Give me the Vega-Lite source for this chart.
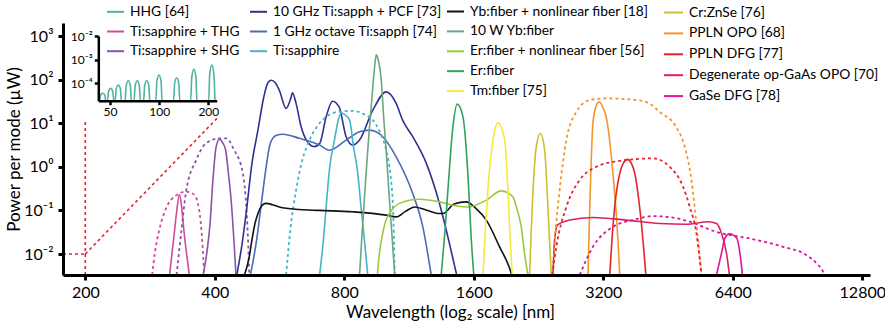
{
"$schema": "https://vega.github.io/schema/vega-lite/v6.json",
"width": 807, "height": 252,
"autosize": {"type": "none"},
"padding": {"left": 63, "top": 23, "right": 15, "bottom": 54},
"background": "white",
"config": {"font": "Lato", "view": {"stroke": null}, "axis": {"grid": false}, "legend": {"labelLimit": 400}},
"datasets": {
"spec": [
{"s":"Ti:sapphire + THG","d":"s","w":314,"p":0.0033},{"s":"Ti:sapphire + THG","d":"s","w":318,"p":0.01},{"s":"Ti:sapphire + THG","d":"s","w":322,"p":0.03},{"s":"Ti:sapphire + THG","d":"s","w":326,"p":0.09},{"s":"Ti:sapphire + THG","d":"s","w":331,"p":0.23},{"s":"Ti:sapphire + THG","d":"s","w":335,"p":0.12},{"s":"Ti:sapphire + THG","d":"s","w":339,"p":0.035},{"s":"Ti:sapphire + THG","d":"s","w":344,"p":0.01},{"s":"Ti:sapphire + THG","d":"s","w":349,"p":0.0033},
{"s":"Ti:sapphire + THG","d":"d","w":286,"p":0.0033},{"s":"Ti:sapphire + THG","d":"d","w":290,"p":0.01},{"s":"Ti:sapphire + THG","d":"d","w":297,"p":0.035},{"s":"Ti:sapphire + THG","d":"d","w":308,"p":0.11},{"s":"Ti:sapphire + THG","d":"d","w":326,"p":0.224},{"s":"Ti:sapphire + THG","d":"d","w":343,"p":0.27},{"s":"Ti:sapphire + THG","d":"d","w":358,"p":0.23},{"s":"Ti:sapphire + THG","d":"d","w":368,"p":0.1},{"s":"Ti:sapphire + THG","d":"d","w":374,"p":0.02},{"s":"Ti:sapphire + THG","d":"d","w":378,"p":0.0033},
{"s":"Ti:sapphire + SHG","d":"s","w":376,"p":0.0033},{"s":"Ti:sapphire + SHG","d":"s","w":385,"p":0.015},{"s":"Ti:sapphire + SHG","d":"s","w":390,"p":0.05},{"s":"Ti:sapphire + SHG","d":"s","w":396,"p":0.5},{"s":"Ti:sapphire + SHG","d":"s","w":403,"p":2.9},{"s":"Ti:sapphire + SHG","d":"s","w":410,"p":4.3},{"s":"Ti:sapphire + SHG","d":"s","w":417,"p":3.6},{"s":"Ti:sapphire + SHG","d":"s","w":424,"p":2.4},{"s":"Ti:sapphire + SHG","d":"s","w":431,"p":0.6},{"s":"Ti:sapphire + SHG","d":"s","w":436,"p":0.2},{"s":"Ti:sapphire + SHG","d":"s","w":444,"p":0.015},{"s":"Ti:sapphire + SHG","d":"s","w":448,"p":0.0033},
{"s":"Ti:sapphire + SHG","d":"d","w":326,"p":0.0033},{"s":"Ti:sapphire + SHG","d":"d","w":334,"p":0.03},{"s":"Ti:sapphire + SHG","d":"d","w":343,"p":0.27},{"s":"Ti:sapphire + SHG","d":"d","w":362,"p":1.42},{"s":"Ti:sapphire + SHG","d":"d","w":381,"p":3.4},{"s":"Ti:sapphire + SHG","d":"d","w":410,"p":4.5},{"s":"Ti:sapphire + SHG","d":"d","w":425,"p":4.5},{"s":"Ti:sapphire + SHG","d":"d","w":444,"p":2.4},{"s":"Ti:sapphire + SHG","d":"d","w":465,"p":0.7},{"s":"Ti:sapphire + SHG","d":"d","w":474,"p":0.1},{"s":"Ti:sapphire + SHG","d":"d","w":478,"p":0.02},{"s":"Ti:sapphire + SHG","d":"d","w":481,"p":0.0033},
{"s":"10 GHz Ti:sapph + PCF [73]","d":"s","w":450,"p":0.0033},{"s":"10 GHz Ti:sapph + PCF [73]","d":"s","w":462,"p":0.015},{"s":"10 GHz Ti:sapph + PCF [73]","d":"s","w":473,"p":0.085},{"s":"10 GHz Ti:sapph + PCF [73]","d":"s","w":488,"p":1.2},{"s":"10 GHz Ti:sapph + PCF [73]","d":"s","w":504,"p":7},{"s":"10 GHz Ti:sapph + PCF [73]","d":"s","w":520,"p":40},{"s":"10 GHz Ti:sapph + PCF [73]","d":"s","w":530,"p":80},{"s":"10 GHz Ti:sapph + PCF [73]","d":"s","w":541,"p":97},{"s":"10 GHz Ti:sapph + PCF [73]","d":"s","w":553,"p":85},{"s":"10 GHz Ti:sapph + PCF [73]","d":"s","w":565,"p":57},{"s":"10 GHz Ti:sapph + PCF [73]","d":"s","w":586,"p":21.8},{"s":"10 GHz Ti:sapph + PCF [73]","d":"s","w":602,"p":40},{"s":"10 GHz Ti:sapph + PCF [73]","d":"s","w":606,"p":50},{"s":"10 GHz Ti:sapph + PCF [73]","d":"s","w":618,"p":28.5},{"s":"10 GHz Ti:sapph + PCF [73]","d":"s","w":635,"p":8.3},{"s":"10 GHz Ti:sapph + PCF [73]","d":"s","w":653,"p":4.1},{"s":"10 GHz Ti:sapph + PCF [73]","d":"s","w":681,"p":2.9},{"s":"10 GHz Ti:sapph + PCF [73]","d":"s","w":701,"p":3.4},{"s":"10 GHz Ti:sapph + PCF [73]","d":"s","w":726,"p":14},{"s":"10 GHz Ti:sapph + PCF [73]","d":"s","w":751,"p":32},{"s":"10 GHz Ti:sapph + PCF [73]","d":"s","w":778,"p":23.7},{"s":"10 GHz Ti:sapph + PCF [73]","d":"s","w":808,"p":4.9},{"s":"10 GHz Ti:sapph + PCF [73]","d":"s","w":837,"p":3.15},{"s":"10 GHz Ti:sapph + PCF [73]","d":"s","w":868,"p":4.1},{"s":"10 GHz Ti:sapph + PCF [73]","d":"s","w":932,"p":20},{"s":"10 GHz Ti:sapph + PCF [73]","d":"s","w":1001,"p":52.5},{"s":"10 GHz Ti:sapph + PCF [73]","d":"s","w":1056,"p":28.5},{"s":"10 GHz Ti:sapph + PCF [73]","d":"s","w":1093,"p":11.8},{"s":"10 GHz Ti:sapph + PCF [73]","d":"s","w":1154,"p":4.9},{"s":"10 GHz Ti:sapph + PCF [73]","d":"s","w":1241,"p":1.2},{"s":"10 GHz Ti:sapph + PCF [73]","d":"s","w":1330,"p":0.15},{"s":"10 GHz Ti:sapph + PCF [73]","d":"s","w":1400,"p":0.02},{"s":"10 GHz Ti:sapph + PCF [73]","d":"s","w":1460,"p":0.0033},
{"s":"1 GHz octave Ti:sapph [74]","d":"s","w":484,"p":0.0033},{"s":"1 GHz octave Ti:sapph [74]","d":"s","w":500,"p":0.02},{"s":"1 GHz octave Ti:sapph [74]","d":"s","w":512,"p":0.12},{"s":"1 GHz octave Ti:sapph [74]","d":"s","w":520,"p":0.4},{"s":"1 GHz octave Ti:sapph [74]","d":"s","w":528,"p":1.2},{"s":"1 GHz octave Ti:sapph [74]","d":"s","w":538,"p":3.4},{"s":"1 GHz octave Ti:sapph [74]","d":"s","w":555,"p":5.2},{"s":"1 GHz octave Ti:sapph [74]","d":"s","w":576,"p":5.6},{"s":"1 GHz octave Ti:sapph [74]","d":"s","w":629,"p":4.5},{"s":"1 GHz octave Ti:sapph [74]","d":"s","w":701,"p":3.15},{"s":"1 GHz octave Ti:sapph [74]","d":"s","w":739,"p":2.4},{"s":"1 GHz octave Ti:sapph [74]","d":"s","w":808,"p":4.1},{"s":"1 GHz octave Ti:sapph [74]","d":"s","w":868,"p":6.35},{"s":"1 GHz octave Ti:sapph [74]","d":"s","w":916,"p":6.95},{"s":"1 GHz octave Ti:sapph [74]","d":"s","w":983,"p":4.9},{"s":"1 GHz octave Ti:sapph [74]","d":"s","w":1056,"p":1.7},{"s":"1 GHz octave Ti:sapph [74]","d":"s","w":1154,"p":0.245},{"s":"1 GHz octave Ti:sapph [74]","d":"s","w":1218,"p":0.042},{"s":"1 GHz octave Ti:sapph [74]","d":"s","w":1274,"p":0.0033},
{"s":"Ti:sapphire","d":"s","w":701,"p":0.0033},{"s":"Ti:sapphire","d":"s","w":715,"p":0.02},{"s":"Ti:sapphire","d":"s","w":726,"p":0.12},{"s":"Ti:sapphire","d":"s","w":740,"p":1},{"s":"Ti:sapphire","d":"s","w":759,"p":4.1},{"s":"Ti:sapphire","d":"s","w":775,"p":12},{"s":"Ti:sapphire","d":"s","w":787,"p":17.3},{"s":"Ti:sapphire","d":"s","w":800,"p":16},{"s":"Ti:sapphire","d":"s","w":823,"p":11.8},{"s":"Ti:sapphire","d":"s","w":840,"p":3},{"s":"Ti:sapphire","d":"s","w":860,"p":0.7},{"s":"Ti:sapphire","d":"s","w":875,"p":0.12},{"s":"Ti:sapphire","d":"s","w":891,"p":0.021},{"s":"Ti:sapphire","d":"s","w":907,"p":0.0033},
{"s":"Ti:sapphire","d":"d","w":586,"p":0.0033},{"s":"Ti:sapphire","d":"d","w":600,"p":0.04},{"s":"Ti:sapphire","d":"d","w":618,"p":0.29},{"s":"Ti:sapphire","d":"d","w":640,"p":1.5},{"s":"Ti:sapphire","d":"d","w":664,"p":4.1},{"s":"Ti:sapphire","d":"d","w":695,"p":9},{"s":"Ti:sapphire","d":"d","w":726,"p":14},{"s":"Ti:sapphire","d":"d","w":780,"p":18.5},{"s":"Ti:sapphire","d":"d","w":837,"p":19.2},{"s":"Ti:sapphire","d":"d","w":890,"p":16},{"s":"Ti:sapphire","d":"d","w":932,"p":11.8},{"s":"Ti:sapphire","d":"d","w":970,"p":6},{"s":"Ti:sapphire","d":"d","w":1001,"p":2.4},{"s":"Ti:sapphire","d":"d","w":1025,"p":0.6},{"s":"Ti:sapphire","d":"d","w":1038,"p":0.12},{"s":"Ti:sapphire","d":"d","w":1044,"p":0.02},{"s":"Ti:sapphire","d":"d","w":1048,"p":0.0033},
{"s":"Yb:fiber + nonlinear fiber [18]","d":"s","w":469,"p":0.0033},{"s":"Yb:fiber + nonlinear fiber [18]","d":"s","w":481,"p":0.0086},{"s":"Yb:fiber + nonlinear fiber [18]","d":"s","w":488,"p":0.021},{"s":"Yb:fiber + nonlinear fiber [18]","d":"s","w":496,"p":0.05},{"s":"Yb:fiber + nonlinear fiber [18]","d":"s","w":504,"p":0.085},{"s":"Yb:fiber + nonlinear fiber [18]","d":"s","w":515,"p":0.13},{"s":"Yb:fiber + nonlinear fiber [18]","d":"s","w":526,"p":0.145},{"s":"Yb:fiber + nonlinear fiber [18]","d":"s","w":545,"p":0.135},{"s":"Yb:fiber + nonlinear fiber [18]","d":"s","w":565,"p":0.12},{"s":"Yb:fiber + nonlinear fiber [18]","d":"s","w":629,"p":0.105},{"s":"Yb:fiber + nonlinear fiber [18]","d":"s","w":700,"p":0.1},{"s":"Yb:fiber + nonlinear fiber [18]","d":"s","w":837,"p":0.093},{"s":"Yb:fiber + nonlinear fiber [18]","d":"s","w":1001,"p":0.078},{"s":"Yb:fiber + nonlinear fiber [18]","d":"s","w":1056,"p":0.071},{"s":"Yb:fiber + nonlinear fiber [18]","d":"s","w":1110,"p":0.095},{"s":"Yb:fiber + nonlinear fiber [18]","d":"s","w":1165,"p":0.12},{"s":"Yb:fiber + nonlinear fiber [18]","d":"s","w":1230,"p":0.105},{"s":"Yb:fiber + nonlinear fiber [18]","d":"s","w":1332,"p":0.085},{"s":"Yb:fiber + nonlinear fiber [18]","d":"s","w":1356,"p":0.085},{"s":"Yb:fiber + nonlinear fiber [18]","d":"s","w":1440,"p":0.14},{"s":"Yb:fiber + nonlinear fiber [18]","d":"s","w":1537,"p":0.157},{"s":"Yb:fiber + nonlinear fiber [18]","d":"s","w":1620,"p":0.11},{"s":"Yb:fiber + nonlinear fiber [18]","d":"s","w":1711,"p":0.06},{"s":"Yb:fiber + nonlinear fiber [18]","d":"s","w":1837,"p":0.0146},{"s":"Yb:fiber + nonlinear fiber [18]","d":"s","w":1938,"p":0.0047},{"s":"Yb:fiber + nonlinear fiber [18]","d":"s","w":1960,"p":0.0033},
{"s":"10 W Yb:fiber","d":"s","w":868,"p":0.0033},{"s":"10 W Yb:fiber","d":"s","w":880,"p":0.03},{"s":"10 W Yb:fiber","d":"s","w":899,"p":0.7},{"s":"10 W Yb:fiber","d":"s","w":912,"p":5},{"s":"10 W Yb:fiber","d":"s","w":924,"p":23.7},{"s":"10 W Yb:fiber","d":"s","w":941,"p":196},{"s":"10 W Yb:fiber","d":"s","w":949,"p":370},{"s":"10 W Yb:fiber","d":"s","w":958,"p":300},{"s":"10 W Yb:fiber","d":"s","w":975,"p":97},{"s":"10 W Yb:fiber","d":"s","w":990,"p":10},{"s":"10 W Yb:fiber","d":"s","w":1001,"p":2.4},{"s":"10 W Yb:fiber","d":"s","w":1015,"p":0.3},{"s":"10 W Yb:fiber","d":"s","w":1028,"p":0.05},{"s":"10 W Yb:fiber","d":"s","w":1048,"p":0.0033},
{"s":"Er:fiber + nonlinear fiber [56]","d":"s","w":955,"p":0.0033},{"s":"Er:fiber + nonlinear fiber [56]","d":"s","w":965,"p":0.01},{"s":"Er:fiber + nonlinear fiber [56]","d":"s","w":983,"p":0.03},{"s":"Er:fiber + nonlinear fiber [56]","d":"s","w":1000,"p":0.06},{"s":"Er:fiber + nonlinear fiber [56]","d":"s","w":1019,"p":0.085},{"s":"Er:fiber + nonlinear fiber [56]","d":"s","w":1075,"p":0.145},{"s":"Er:fiber + nonlinear fiber [56]","d":"s","w":1197,"p":0.18},{"s":"Er:fiber + nonlinear fiber [56]","d":"s","w":1332,"p":0.157},{"s":"Er:fiber + nonlinear fiber [56]","d":"s","w":1440,"p":0.13},{"s":"Er:fiber + nonlinear fiber [56]","d":"s","w":1564,"p":0.12},{"s":"Er:fiber + nonlinear fiber [56]","d":"s","w":1640,"p":0.14},{"s":"Er:fiber + nonlinear fiber [56]","d":"s","w":1711,"p":0.172},{"s":"Er:fiber + nonlinear fiber [56]","d":"s","w":1854,"p":0.28},{"s":"Er:fiber + nonlinear fiber [56]","d":"s","w":1972,"p":0.205},{"s":"Er:fiber + nonlinear fiber [56]","d":"s","w":2020,"p":0.1},{"s":"Er:fiber + nonlinear fiber [56]","d":"s","w":2063,"p":0.042},{"s":"Er:fiber + nonlinear fiber [56]","d":"s","w":2100,"p":0.01},{"s":"Er:fiber + nonlinear fiber [56]","d":"s","w":2138,"p":0.0033},
{"s":"Er:fiber","d":"s","w":1344,"p":0.0033},{"s":"Er:fiber","d":"s","w":1370,"p":0.03},{"s":"Er:fiber","d":"s","w":1393,"p":0.29},{"s":"Er:fiber","d":"s","w":1431,"p":8.3},{"s":"Er:fiber","d":"s","w":1464,"p":27.4},{"s":"Er:fiber","d":"s","w":1510,"p":14},{"s":"Er:fiber","d":"s","w":1550,"p":0.7},{"s":"Er:fiber","d":"s","w":1579,"p":0.021},{"s":"Er:fiber","d":"s","w":1600,"p":0.0033},
{"s":"Tm:fiber [75]","d":"s","w":1681,"p":0.0033},{"s":"Tm:fiber [75]","d":"s","w":1700,"p":0.03},{"s":"Tm:fiber [75]","d":"s","w":1725,"p":0.29},{"s":"Tm:fiber [75]","d":"s","w":1773,"p":4.1},{"s":"Tm:fiber [75]","d":"s","w":1821,"p":10.2},{"s":"Tm:fiber [75]","d":"s","w":1888,"p":4.1},{"s":"Tm:fiber [75]","d":"s","w":1921,"p":0.29},{"s":"Tm:fiber [75]","d":"s","w":1945,"p":0.02},{"s":"Tm:fiber [75]","d":"s","w":1966,"p":0.0033},
{"s":"Cr:ZnSe [76]","d":"s","w":2157,"p":0.0033},{"s":"Cr:ZnSe [76]","d":"s","w":2175,"p":0.03},{"s":"Cr:ZnSe [76]","d":"s","w":2197,"p":0.29},{"s":"Cr:ZnSe [76]","d":"s","w":2236,"p":2.9},{"s":"Cr:ZnSe [76]","d":"s","w":2285,"p":5.8},{"s":"Cr:ZnSe [76]","d":"s","w":2338,"p":2.4},{"s":"Cr:ZnSe [76]","d":"s","w":2379,"p":0.12},{"s":"Cr:ZnSe [76]","d":"s","w":2400,"p":0.02},{"s":"Cr:ZnSe [76]","d":"s","w":2423,"p":0.0033},
{"s":"PPLN OPO [68]","d":"s","w":2949,"p":0.0033},{"s":"PPLN OPO [68]","d":"s","w":2965,"p":0.03},{"s":"PPLN OPO [68]","d":"s","w":2985,"p":0.29},{"s":"PPLN OPO [68]","d":"s","w":3027,"p":9.9},{"s":"PPLN OPO [68]","d":"s","w":3080,"p":25},{"s":"PPLN OPO [68]","d":"s","w":3131,"p":31},{"s":"PPLN OPO [68]","d":"s","w":3200,"p":22},{"s":"PPLN OPO [68]","d":"s","w":3250,"p":14},{"s":"PPLN OPO [68]","d":"s","w":3370,"p":0.7},{"s":"PPLN OPO [68]","d":"s","w":3461,"p":0.021},{"s":"PPLN OPO [68]","d":"s","w":3494,"p":0.0033},
{"s":"PPLN OPO [68]","d":"d","w":2444,"p":0.0033},{"s":"PPLN OPO [68]","d":"d","w":2470,"p":0.02},{"s":"PPLN OPO [68]","d":"d","w":2533,"p":0.29},{"s":"PPLN OPO [68]","d":"d","w":2626,"p":4.1},{"s":"PPLN OPO [68]","d":"d","w":2770,"p":18.2},{"s":"PPLN OPO [68]","d":"d","w":2975,"p":34},{"s":"PPLN OPO [68]","d":"d","w":3250,"p":37},{"s":"PPLN OPO [68]","d":"d","w":3822,"p":34},{"s":"PPLN OPO [68]","d":"d","w":4103,"p":28},{"s":"PPLN OPO [68]","d":"d","w":4329,"p":18.2},{"s":"PPLN OPO [68]","d":"d","w":4734,"p":8},{"s":"PPLN OPO [68]","d":"d","w":4948,"p":2.9},{"s":"PPLN OPO [68]","d":"d","w":5129,"p":0.5},{"s":"PPLN OPO [68]","d":"d","w":5268,"p":0.05},{"s":"PPLN OPO [68]","d":"d","w":5412,"p":0.0033},
{"s":"PPLN DFG [77]","d":"s","w":3312,"p":0.0033},{"s":"PPLN DFG [77]","d":"s","w":3360,"p":0.03},{"s":"PPLN DFG [77]","d":"s","w":3401,"p":0.12},{"s":"PPLN DFG [77]","d":"s","w":3494,"p":0.7},{"s":"PPLN DFG [77]","d":"s","w":3560,"p":1.2},{"s":"PPLN DFG [77]","d":"s","w":3640,"p":1.48},{"s":"PPLN DFG [77]","d":"s","w":3720,"p":1.2},{"s":"PPLN DFG [77]","d":"s","w":3788,"p":0.7},{"s":"PPLN DFG [77]","d":"s","w":3924,"p":0.05},{"s":"PPLN DFG [77]","d":"s","w":4020,"p":0.0033},
{"s":"PPLN DFG [77]","d":"d","w":2435,"p":0.0033},{"s":"PPLN DFG [77]","d":"d","w":2488,"p":0.0146},{"s":"PPLN DFG [77]","d":"d","w":2626,"p":0.12},{"s":"PPLN DFG [77]","d":"d","w":2820,"p":0.5},{"s":"PPLN DFG [77]","d":"d","w":3084,"p":1},{"s":"PPLN DFG [77]","d":"d","w":3494,"p":1.37},{"s":"PPLN DFG [77]","d":"d","w":4176,"p":1.56},{"s":"PPLN DFG [77]","d":"d","w":4567,"p":1},{"s":"PPLN DFG [77]","d":"d","w":4904,"p":0.35},{"s":"PPLN DFG [77]","d":"d","w":5084,"p":0.12},{"s":"PPLN DFG [77]","d":"d","w":5268,"p":0.03},{"s":"PPLN DFG [77]","d":"d","w":5412,"p":0.0033},
{"s":"Degenerate op-GaAs OPO [70]","d":"s","w":2444,"p":0.0033},{"s":"Degenerate op-GaAs OPO [70]","d":"s","w":2466,"p":0.021},{"s":"Degenerate op-GaAs OPO [70]","d":"s","w":2503,"p":0.046},{"s":"Degenerate op-GaAs OPO [70]","d":"s","w":2672,"p":0.06},{"s":"Degenerate op-GaAs OPO [70]","d":"s","w":3027,"p":0.069},{"s":"Degenerate op-GaAs OPO [70]","d":"s","w":3614,"p":0.06},{"s":"Degenerate op-GaAs OPO [70]","d":"s","w":4329,"p":0.05},{"s":"Degenerate op-GaAs OPO [70]","d":"s","w":4994,"p":0.048},{"s":"Degenerate op-GaAs OPO [70]","d":"s","w":5608,"p":0.055},{"s":"Degenerate op-GaAs OPO [70]","d":"s","w":5865,"p":0.05},{"s":"Degenerate op-GaAs OPO [70]","d":"s","w":6023,"p":0.03},{"s":"Degenerate op-GaAs OPO [70]","d":"s","w":6189,"p":0.0103},{"s":"Degenerate op-GaAs OPO [70]","d":"s","w":6286,"p":0.0033},
{"s":"GaSe DFG [78]","d":"s","w":5865,"p":0.0033},{"s":"GaSe DFG [78]","d":"s","w":6023,"p":0.0103},{"s":"GaSe DFG [78]","d":"s","w":6131,"p":0.0226},{"s":"GaSe DFG [78]","d":"s","w":6286,"p":0.029},{"s":"GaSe DFG [78]","d":"s","w":6420,"p":0.027},{"s":"GaSe DFG [78]","d":"s","w":6546,"p":0.0226},{"s":"GaSe DFG [78]","d":"s","w":6666,"p":0.0087},{"s":"GaSe DFG [78]","d":"s","w":6740,"p":0.0033},
{"s":"GaSe DFG [78]","d":"d","w":2820,"p":0.0033},{"s":"GaSe DFG [78]","d":"d","w":3027,"p":0.0146},{"s":"GaSe DFG [78]","d":"d","w":3370,"p":0.042},{"s":"GaSe DFG [78]","d":"d","w":3752,"p":0.06},{"s":"GaSe DFG [78]","d":"d","w":4176,"p":0.074},{"s":"GaSe DFG [78]","d":"d","w":4734,"p":0.066},{"s":"GaSe DFG [78]","d":"d","w":5084,"p":0.055},{"s":"GaSe DFG [78]","d":"d","w":5865,"p":0.032},{"s":"GaSe DFG [78]","d":"d","w":7010,"p":0.0226},{"s":"GaSe DFG [78]","d":"d","w":8380,"p":0.0146},{"s":"GaSe DFG [78]","d":"d","w":9500,"p":0.0094},{"s":"GaSe DFG [78]","d":"d","w":10020,"p":0.0061},{"s":"GaSe DFG [78]","d":"d","w":10380,"p":0.0039},{"s":"GaSe DFG [78]","d":"d","w":10450,"p":0.0033}
],
"conn": [
{"seg":"a","i":1,"w":177.5,"p":0.0033},{"seg":"a","i":2,"w":177.5,"p":0.01},
{"seg":"b","i":1,"w":177.5,"p":0.01},{"seg":"b","i":2,"w":200,"p":0.01},
{"seg":"c","i":1,"w":200,"p":0.0033},{"seg":"c","i":2,"w":200,"p":12.4},
{"seg":"d","i":1,"w":200,"p":0.01},{"seg":"d","i":2,"w":405,"p":13},
{"seg":"e","i":1,"w":177.5,"p":0.0033},{"seg":"e","i":2,"w":200,"p":0.0033}
],
"hhg": [
{"w":43.2,"p":1.84e-5},{"w":43.8,"p":3.17e-5},{"w":45.1,"p":3.8e-5},{"w":46.5,"p":3.17e-5},{"w":47.1,"p":1.84e-5},
{"w":48.3,"p":1.84e-5},{"w":49.0,"p":4.56e-5},{"w":50.5,"p":6.2e-5},{"w":52.0,"p":4.56e-5},{"w":52.8,"p":1.84e-5},
{"w":53.8,"p":1.84e-5},{"w":54.6,"p":5.8e-5},{"w":56.2,"p":8.5e-5},{"w":57.9,"p":5.8e-5},{"w":58.7,"p":1.84e-5},
{"w":61.9,"p":1.84e-5},{"w":62.8,"p":7.9e-5},{"w":64.7,"p":1.29e-4},{"w":66.6,"p":7.9e-5},{"w":67.6,"p":1.84e-5},
{"w":70.2,"p":1.84e-5},{"w":71.3,"p":7.9e-5},{"w":73.4,"p":1.29e-4},{"w":75.6,"p":7.9e-5},{"w":76.7,"p":1.84e-5},
{"w":80.3,"p":1.84e-5},{"w":81.5,"p":7.9e-5},{"w":83.9,"p":1.29e-4},{"w":86.4,"p":7.9e-5},{"w":87.7,"p":1.84e-5},
{"w":95.4,"p":1.84e-5},{"w":96.8,"p":1.2e-4},{"w":99.7,"p":2.24e-4},{"w":102.7,"p":1.2e-4},{"w":104.2,"p":1.84e-5},
{"w":122.5,"p":1.84e-5},{"w":124.3,"p":9.9e-5},{"w":128,"p":1.72e-4},{"w":131.8,"p":9.9e-5},{"w":133.8,"p":1.84e-5},
{"w":156,"p":1.84e-5},{"w":158.3,"p":1.82e-4},{"w":163,"p":3.9e-4},{"w":167.9,"p":1.82e-4},{"w":170.3,"p":1.84e-5},
{"w":201,"p":1.84e-5},{"w":203.9,"p":2.48e-4},{"w":210,"p":5.9e-4},{"w":216.3,"p":2.48e-4},{"w":219.5,"p":1.84e-5}
]
},
"layer": [
{
"data": {"name": "spec"},
"encoding": {
"x": {"field": "w", "type": "quantitative",
 "scale": {"type": "log", "base": 2, "domain": [177.5, 13340], "nice": false},
 "axis": {"values": [200, 400, 800, 1600, 3200, 6400, 12800], "format": "d", "title": "Wavelength (log₂ scale) [nm]", "titleFontSize": 17, "titleFontWeight": "normal", "titleColor": "black", "titleX": 387, "labelFontSize": 16, "labelColor": "black", "labelFlush": false, "labelOverlap": false, "tickSize": 5, "tickWidth": 3, "tickColor": "black", "domainWidth": 3, "domainColor": "black", "labelPadding": 4, "zindex": 1}},
"y": {"field": "p", "type": "quantitative",
 "scale": {"type": "log", "domain": [0.0033, 1990], "nice": false},
 "axis": {"values": [0.01, 0.1, 1, 10, 100, 1000], "labelExpr": "datum.value < 0.05 ? '10⁻²' : datum.value < 0.5 ? '10⁻¹' : datum.value < 5 ? '10⁰' : datum.value < 50 ? '10¹' : datum.value < 500 ? '10²' : '10³'", "title": "Power per mode (µW)", "titleFontSize": 17, "titleFontWeight": "normal", "titleColor": "black", "labelFontSize": 16, "labelColor": "black", "labelFlush": false, "labelOverlap": false, "tickSize": 5, "tickWidth": 3, "tickColor": "black", "domainWidth": 3, "domainColor": "black", "labelPadding": 5, "titlePadding": 0, "zindex": 1}}
},
"layer": [
{
"transform": [{"filter": {"field": "s", "oneOf": ["Ti:sapphire + THG", "Ti:sapphire + SHG"]}}],
"layer": [
{"transform": [{"filter": "datum.d == 's'"}], "mark": {"type": "line", "interpolate": "monotone", "strokeWidth": 1.6, "clip": true},
 "encoding": {"color": {"field": "s", "type": "nominal", "scale": {"domain": ["HHG [64]", "Ti:sapphire + THG", "Ti:sapphire + SHG"], "range": ["#4fb3a0", "#d14a9f", "#8a52a8"]},
  "legend": {"orient": "none", "legendX": 43, "legendY": -20.7, "title": null, "symbolType": "stroke", "symbolSize": 289, "symbolStrokeWidth": 2, "labelFontSize": 13.8, "labelColor": "black", "labelLimit": 400, "rowPadding": 2.7, "labelOffset": 5, "padding": 0, "direction": "vertical"}}}},
{"transform": [{"filter": "datum.d == 'd'"}], "mark": {"type": "line", "interpolate": "monotone", "strokeWidth": 1.8, "strokeDash": [3, 3], "clip": true},
 "encoding": {"color": {"field": "s", "type": "nominal", "scale": {"domain": ["HHG [64]", "Ti:sapphire + THG", "Ti:sapphire + SHG"], "range": ["#4fb3a0", "#d14a9f", "#8a52a8"]}, "legend": null}}}
]
},
{
"transform": [{"filter": {"field": "s", "oneOf": ["10 GHz Ti:sapph + PCF [73]", "1 GHz octave Ti:sapph [74]", "Ti:sapphire"]}}],
"layer": [
{"transform": [{"filter": "datum.d == 's'"}], "mark": {"type": "line", "interpolate": "monotone", "strokeWidth": 1.6, "clip": true},
 "encoding": {"color": {"field": "s", "type": "nominal", "scale": {"domain": ["10 GHz Ti:sapph + PCF [73]", "1 GHz octave Ti:sapph [74]", "Ti:sapphire"], "range": ["#2e3192", "#4a6cb7", "#45b3c9"]},
  "legend": {"orient": "none", "legendX": 186, "legendY": -20.7, "title": null, "symbolType": "stroke", "symbolSize": 289, "symbolStrokeWidth": 2, "labelFontSize": 13.8, "labelColor": "black", "labelLimit": 400, "rowPadding": 2.7, "labelOffset": 5, "padding": 0, "direction": "vertical"}}}},
{"transform": [{"filter": "datum.d == 'd'"}], "mark": {"type": "line", "interpolate": "monotone", "strokeWidth": 1.8, "strokeDash": [3, 3], "clip": true},
 "encoding": {"color": {"field": "s", "type": "nominal", "scale": {"domain": ["10 GHz Ti:sapph + PCF [73]", "1 GHz octave Ti:sapph [74]", "Ti:sapphire"], "range": ["#2e3192", "#4a6cb7", "#45b3c9"]}, "legend": null}}}
]
},
{
"transform": [{"filter": {"field": "s", "oneOf": ["Yb:fiber + nonlinear fiber [18]", "10 W Yb:fiber", "Er:fiber + nonlinear fiber [56]", "Er:fiber", "Tm:fiber [75]"]}}],
"mark": {"type": "line", "interpolate": "monotone", "strokeWidth": 1.6, "clip": true},
"encoding": {"color": {"field": "s", "type": "nominal", "scale": {"domain": ["Yb:fiber + nonlinear fiber [18]", "10 W Yb:fiber", "Er:fiber + nonlinear fiber [56]", "Er:fiber", "Tm:fiber [75]"], "range": ["#111111", "#6ba77e", "#9bc93d", "#2ea35c", "#f5e83a"]},
 "legend": {"orient": "none", "legendX": 383, "legendY": -21, "title": null, "symbolType": "stroke", "symbolSize": 289, "symbolStrokeWidth": 2, "labelFontSize": 13.8, "labelColor": "black", "labelLimit": 400, "rowPadding": 2.9, "labelOffset": 5, "padding": 0, "direction": "vertical"}}}
},
{
"transform": [{"filter": {"field": "s", "oneOf": ["Cr:ZnSe [76]", "PPLN OPO [68]", "PPLN DFG [77]", "Degenerate op-GaAs OPO [70]", "GaSe DFG [78]"]}}],
"layer": [
{"transform": [{"filter": "datum.d == 's'"}], "mark": {"type": "line", "interpolate": "monotone", "strokeWidth": 1.6, "clip": true},
 "encoding": {"color": {"field": "s", "type": "nominal", "scale": {"domain": ["Cr:ZnSe [76]", "PPLN OPO [68]", "PPLN DFG [77]", "Degenerate op-GaAs OPO [70]", "GaSe DFG [78]"], "range": ["#cdbf2d", "#f1962d", "#e1252b", "#d7245c", "#e0139b"]},
  "legend": {"orient": "none", "legendX": 600, "legendY": -21, "title": null, "symbolType": "stroke", "symbolSize": 361, "symbolStrokeWidth": 2, "labelFontSize": 13.8, "labelColor": "black", "labelLimit": 400, "rowPadding": 2.9, "labelOffset": 5, "padding": 0, "direction": "vertical"}}}},
{"transform": [{"filter": "datum.d == 'd'"}], "mark": {"type": "line", "interpolate": "monotone", "strokeWidth": 1.8, "strokeDash": [3, 3], "clip": true},
 "encoding": {"color": {"field": "s", "type": "nominal", "scale": {"domain": ["Cr:ZnSe [76]", "PPLN OPO [68]", "PPLN DFG [77]", "Degenerate op-GaAs OPO [70]", "GaSe DFG [78]"], "range": ["#cdbf2d", "#f1962d", "#e1252b", "#d7245c", "#e0139b"]}, "legend": null}}}
]
},
{
"data": {"name": "conn"},
"mark": {"type": "line", "color": "#e1252b", "strokeWidth": 1.6, "strokeDash": [3, 3], "clip": true},
"encoding": {"detail": {"field": "seg"}, "order": {"field": "i"}}
}
],
"resolve": {"scale": {"color": "independent"}}
},
{
"data": {"name": "hhg"},
"mark": {"type": "line", "interpolate": "monotone", "color": "#4fb3a0", "strokeWidth": 1.6},
"encoding": {
"x": {"field": "w", "type": "quantitative",
 "scale": {"type": "log", "base": 2, "domain": [42.4, 225], "range": [35.3, 153.7], "nice": false},
 "axis": {"orient": "bottom", "offset": -174.3, "values": [50, 100, 200], "title": null, "labelFontSize": 12, "labelColor": "black", "labelFlush": false, "labelOverlap": false, "tickSize": 4, "tickWidth": 2.5, "tickColor": "black", "domainWidth": 2.5, "domainColor": "black", "labelPadding": 2, "zindex": 1}},
"y": {"field": "p", "type": "quantitative",
 "scale": {"type": "log", "domain": [1.84e-5, 0.01], "range": [77.7, 13], "nice": false},
 "axis": {"orient": "left", "offset": -35.3, "values": [0.0001, 0.001, 0.01], "labelExpr": "datum.value < 0.0005 ? '10⁻⁴' : datum.value < 0.005 ? '10⁻³' : '10⁻²'", "title": null, "labelFontSize": 12, "labelColor": "black", "labelFlush": false, "labelOverlap": false, "tickSize": 4, "tickWidth": 2.5, "tickColor": "black", "domainWidth": 2.5, "domainColor": "black", "labelPadding": 2, "zindex": 1}}
}
}
],
"resolve": {"scale": {"x": "independent", "y": "independent"}}
}
